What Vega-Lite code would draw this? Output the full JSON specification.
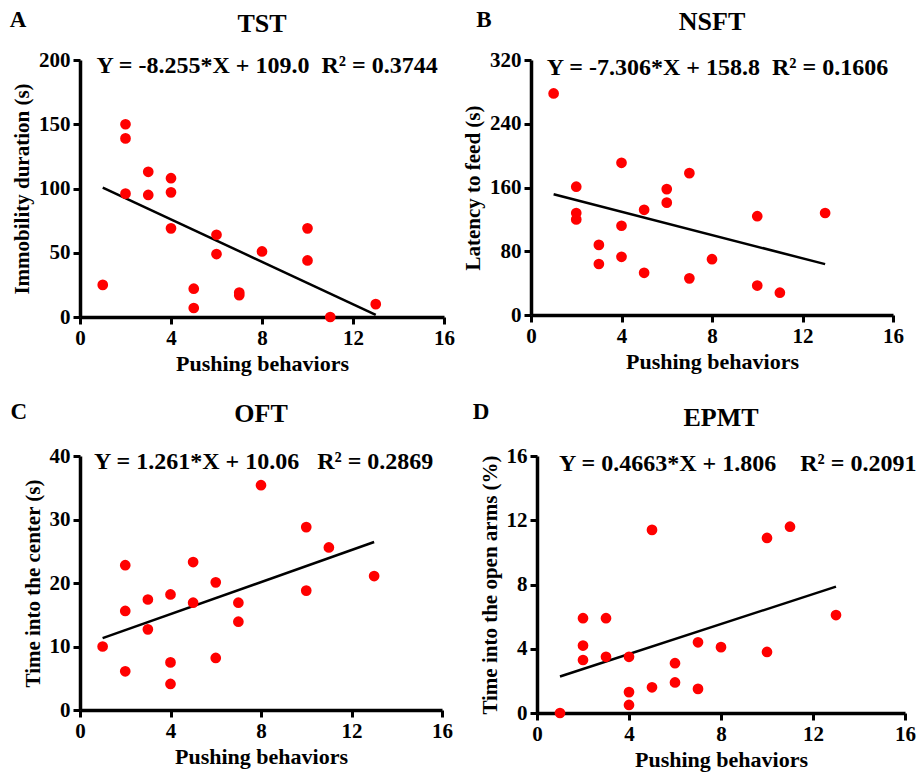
{
  "$schema": "https://vega.github.io/schema/vega-lite/v6.json",
  "background": "white",
  "padding": {"left": 9, "top": 8, "right": 2, "bottom": 2},
  "config": {
    "view": {"stroke": null},
    "font": "Liberation Serif",
    "axis": {
      "grid": false,
      "domainColor": "black",
      "domainWidth": 3.5,
      "tickColor": "black",
      "tickWidth": 3,
      "tickSize": 7,
      "labelFont": "Liberation Serif",
      "labelFontWeight": "bold",
      "labelFontSize": 21,
      "labelColor": "black",
      "labelPadding": 3,
      "titleFont": "Liberation Serif",
      "titleFontWeight": "bold",
      "titleColor": "black",
      "labelFlush": false,
      "labelOverlap": false
    },
    "axisX": {"titlePadding": 5, "titleFontSize": 22},
    "axisY": {"titlePadding": 6, "titleFontSize": 21},
    "title": {"font": "Liberation Serif", "fontSize": 26, "fontWeight": "bold", "color": "black", "anchor": "middle"}
  },
  "datasets": {
    "tst": [
      {"x": 1, "y": 25}, {"x": 2, "y": 150}, {"x": 2, "y": 139}, {"x": 2, "y": 96},
      {"x": 3, "y": 113}, {"x": 3, "y": 95}, {"x": 4, "y": 108}, {"x": 4, "y": 97},
      {"x": 4, "y": 69}, {"x": 5, "y": 22}, {"x": 5, "y": 7}, {"x": 6, "y": 64},
      {"x": 6, "y": 49}, {"x": 7, "y": 19}, {"x": 7, "y": 17}, {"x": 8, "y": 51},
      {"x": 10, "y": 69}, {"x": 10, "y": 44}, {"x": 11, "y": 0}, {"x": 13, "y": 10}
    ],
    "tst_fit": [{"x": 1, "y": 100.7}, {"x": 13, "y": 1.7}],
    "nsft": [
      {"x": 1, "y": 278}, {"x": 2, "y": 161}, {"x": 2, "y": 128}, {"x": 2, "y": 120},
      {"x": 3, "y": 88}, {"x": 3, "y": 64}, {"x": 4, "y": 191}, {"x": 4, "y": 112},
      {"x": 4, "y": 73}, {"x": 5, "y": 132}, {"x": 5, "y": 53}, {"x": 6, "y": 158},
      {"x": 6, "y": 141}, {"x": 7, "y": 178}, {"x": 7, "y": 46}, {"x": 8, "y": 70},
      {"x": 10, "y": 124}, {"x": 10, "y": 37}, {"x": 11, "y": 28}, {"x": 13, "y": 128}
    ],
    "nsft_fit": [{"x": 1, "y": 151.5}, {"x": 13, "y": 63.8}],
    "oft": [
      {"x": 1, "y": 10}, {"x": 2, "y": 22.8}, {"x": 2, "y": 15.6}, {"x": 2, "y": 6.1},
      {"x": 3, "y": 17.4}, {"x": 3, "y": 12.7}, {"x": 4, "y": 18.2}, {"x": 4, "y": 7.5},
      {"x": 4, "y": 4.1}, {"x": 5, "y": 23.3}, {"x": 5, "y": 16.9}, {"x": 6, "y": 20.1},
      {"x": 6, "y": 8.2}, {"x": 7, "y": 16.9}, {"x": 7, "y": 13.9}, {"x": 8, "y": 35.4},
      {"x": 10, "y": 28.8}, {"x": 10, "y": 18.8}, {"x": 11, "y": 25.6}, {"x": 13, "y": 21.1}
    ],
    "oft_fit": [{"x": 1, "y": 11.32}, {"x": 13, "y": 26.45}],
    "epmt": [
      {"x": 1, "y": 0}, {"x": 2, "y": 5.9}, {"x": 2, "y": 4.2}, {"x": 2, "y": 3.3},
      {"x": 3, "y": 5.9}, {"x": 3, "y": 3.5}, {"x": 4, "y": 3.5}, {"x": 4, "y": 1.3},
      {"x": 4, "y": 0.5}, {"x": 5, "y": 11.4}, {"x": 5, "y": 1.6}, {"x": 6, "y": 3.1},
      {"x": 6, "y": 1.9}, {"x": 7, "y": 4.4}, {"x": 7, "y": 1.5}, {"x": 8, "y": 4.1},
      {"x": 10, "y": 10.9}, {"x": 10, "y": 3.8}, {"x": 11, "y": 11.6}, {"x": 13, "y": 6.1}
    ],
    "epmt_fit": [{"x": 1, "y": 2.27}, {"x": 13, "y": 7.87}]
  },
  "vconcat": [
    {
      "spacing": 7,
      "hconcat": [
        {
          "width": 364, "height": 257,
          "title": {"text": "TST", "offset": -27.5},
          "layer": [
            {
              "data": {"name": "tst_fit"},
              "mark": {"type": "line", "color": "black", "strokeWidth": 2.5},
              "encoding": {
                "x": {"field": "x", "type": "quantitative", "scale": {"domain": [0, 16], "nice": false}, "axis": {"values": [0, 4, 8, 12, 16], "title": "Pushing behaviors"}},
                "y": {"field": "y", "type": "quantitative", "scale": {"domain": [0, 200], "nice": false}, "axis": {"values": [0, 50, 100, 150, 200], "title": "Immobility duration (s)"}}
              }
            },
            {
              "data": {"name": "tst"},
              "mark": {"type": "circle", "color": "#ff0000", "size": 115, "opacity": 1},
              "encoding": {"x": {"field": "x", "type": "quantitative"}, "y": {"field": "y", "type": "quantitative"}}
            },
            {
              "data": {"values": [{"label": "Y = -8.255*X + 109.0\u00a0\u00a0R² = 0.3744"}]},
              "mark": {"type": "text", "align": "left", "baseline": "middle", "font": "Liberation Serif", "fontWeight": "bold", "fontSize": 24, "color": "black"},
              "encoding": {"x": {"datum": 0.72}, "y": {"datum": 195}, "text": {"field": "label"}}
            },
            {
              "data": {"values": [{"label": "A"}]},
              "mark": {"type": "text", "align": "center", "baseline": "middle", "font": "Liberation Serif", "fontWeight": "bold", "fontSize": 23, "color": "black"},
              "encoding": {"x": {"datum": -2.72}, "y": {"datum": 231}, "text": {"field": "label"}}
            }
          ]
        },
        {
          "width": 362, "height": 255,
          "title": {"text": "NSFT", "offset": -25.5},
          "layer": [
            {
              "data": {"name": "nsft_fit"},
              "mark": {"type": "line", "color": "black", "strokeWidth": 2.5},
              "encoding": {
                "x": {"field": "x", "type": "quantitative", "scale": {"domain": [0, 16], "nice": false}, "axis": {"values": [0, 4, 8, 12, 16], "title": "Pushing behaviors"}},
                "y": {"field": "y", "type": "quantitative", "scale": {"domain": [0, 320], "nice": false}, "axis": {"values": [0, 80, 160, 240, 320], "title": "Latency to feed (s)"}}
              }
            },
            {
              "data": {"name": "nsft"},
              "mark": {"type": "circle", "color": "#ff0000", "size": 115, "opacity": 1},
              "encoding": {"x": {"field": "x", "type": "quantitative"}, "y": {"field": "y", "type": "quantitative"}}
            },
            {
              "data": {"values": [{"label": "Y = -7.306*X + 158.8\u00a0\u00a0R² = 0.1606"}]},
              "mark": {"type": "text", "align": "left", "baseline": "middle", "font": "Liberation Serif", "fontWeight": "bold", "fontSize": 24, "color": "black"},
              "encoding": {"x": {"datum": 0.7}, "y": {"datum": 310}, "text": {"field": "label"}}
            },
            {
              "data": {"values": [{"label": "B"}]},
              "mark": {"type": "text", "align": "center", "baseline": "middle", "font": "Liberation Serif", "fontWeight": "bold", "fontSize": 23, "color": "black"},
              "encoding": {"x": {"datum": -2.08}, "y": {"datum": 370}, "text": {"field": "label"}}
            }
          ]
        }
      ]
    },
    {
      "spacing": 19,
      "hconcat": [
        {
          "width": 362, "height": 254,
          "title": {"text": "OFT", "offset": -25.5},
          "layer": [
            {
              "data": {"name": "oft_fit"},
              "mark": {"type": "line", "color": "black", "strokeWidth": 2.5},
              "encoding": {
                "x": {"field": "x", "type": "quantitative", "scale": {"domain": [0, 16], "nice": false}, "axis": {"values": [0, 4, 8, 12, 16], "title": "Pushing behaviors"}},
                "y": {"field": "y", "type": "quantitative", "scale": {"domain": [0, 40], "nice": false}, "axis": {"values": [0, 10, 20, 30, 40], "title": "Time into the center (s)"}}
              }
            },
            {
              "data": {"name": "oft"},
              "mark": {"type": "circle", "color": "#ff0000", "size": 115, "opacity": 1},
              "encoding": {"x": {"field": "x", "type": "quantitative"}, "y": {"field": "y", "type": "quantitative"}}
            },
            {
              "data": {"values": [{"label": "Y = 1.261*X + 10.06\u00a0\u00a0\u00a0R² = 0.2869"}]},
              "mark": {"type": "text", "align": "left", "baseline": "middle", "font": "Liberation Serif", "fontWeight": "bold", "fontSize": 24, "color": "black"},
              "encoding": {"x": {"datum": 0.62}, "y": {"datum": 39}, "text": {"field": "label"}}
            },
            {
              "data": {"values": [{"label": "C"}]},
              "mark": {"type": "text", "align": "center", "baseline": "middle", "font": "Liberation Serif", "fontWeight": "bold", "fontSize": 23, "color": "black"},
              "encoding": {"x": {"datum": -2.7}, "y": {"datum": 46.9}, "text": {"field": "label"}}
            }
          ]
        },
        {
          "width": 368, "height": 257,
          "title": {"text": "EPMT", "offset": -30.5},
          "layer": [
            {
              "data": {"name": "epmt_fit"},
              "mark": {"type": "line", "color": "black", "strokeWidth": 2.5},
              "encoding": {
                "x": {"field": "x", "type": "quantitative", "scale": {"domain": [0, 16], "nice": false}, "axis": {"values": [0, 4, 8, 12, 16], "title": "Pushing behaviors"}},
                "y": {"field": "y", "type": "quantitative", "scale": {"domain": [0, 16], "nice": false}, "axis": {"values": [0, 4, 8, 12, 16], "title": "Time into the open arms (%)"}}
              }
            },
            {
              "data": {"name": "epmt"},
              "mark": {"type": "circle", "color": "#ff0000", "size": 115, "opacity": 1},
              "encoding": {"x": {"field": "x", "type": "quantitative"}, "y": {"field": "y", "type": "quantitative"}}
            },
            {
              "data": {"values": [{"label": "Y = 0.4663*X + 1.806\u00a0\u00a0\u00a0\u00a0R² = 0.2091"}]},
              "mark": {"type": "text", "align": "left", "baseline": "middle", "font": "Liberation Serif", "fontWeight": "bold", "fontSize": 24, "color": "black"},
              "encoding": {"x": {"datum": 0.96}, "y": {"datum": 15.5}, "text": {"field": "label"}}
            },
            {
              "data": {"values": [{"label": "D"}]},
              "mark": {"type": "text", "align": "center", "baseline": "middle", "font": "Liberation Serif", "fontWeight": "bold", "fontSize": 23, "color": "black"},
              "encoding": {"x": {"datum": -2.43}, "y": {"datum": 18.74}, "text": {"field": "label"}}
            }
          ]
        }
      ]
    }
  ],
  "spacing": 26
}
